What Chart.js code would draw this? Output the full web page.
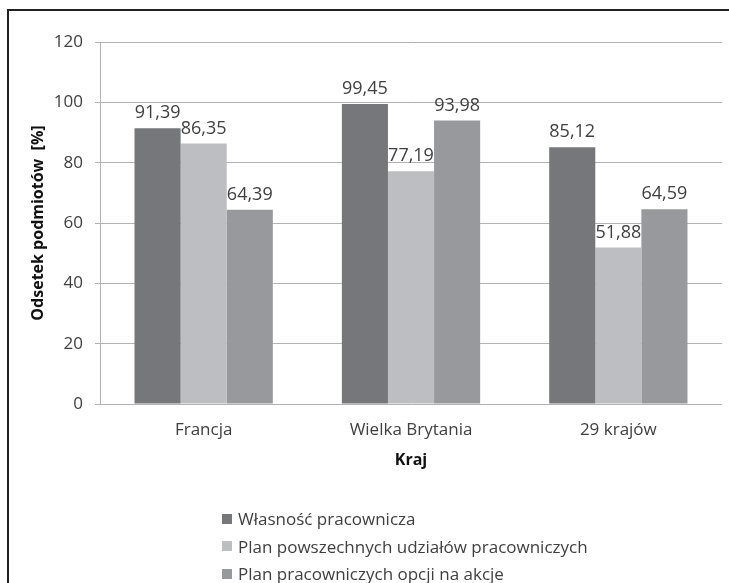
<!DOCTYPE html>
<html>
<head>
<meta charset="utf-8">
<script src="https://cdn.jsdelivr.net/npm/chart.js@4/dist/chart.umd.min.js"></script>
<style>
  html, body { margin: 0; padding: 0; background: #fff; overflow: hidden; }
  #wrap { position: relative; width: 729px; height: 583px; }
  #frame { position: absolute; left: 7px; top: 9px; width: 760px; height: 620px;
           border-left: 2px solid #222; border-top: 2px solid #222; }
  #c { position: absolute; left: 0; top: 0; }
  #legend { position: absolute; left: 222px; top: 505px; font-family: "Open Sans", sans-serif;
            font-size: 17px; color: #404040; line-height: 27.5px; }
  #legend .item { display: flex; align-items: center; white-space: nowrap; }
  #legend .sw { width: 10px; height: 10px; margin-right: 6px; }
</style>
</head>
<body>
<div id="wrap">
  <div id="frame"></div>
  <canvas id="c" width="729" height="583"></canvas>
  <div id="legend"></div>
</div>
<script>
// Categories and series (percent of entities)
const categories = ["Francja", "Wielka Brytania", "29 krajów"];
const seriesNames = [
  "Własność pracownicza",
  "Plan powszechnych udziałów pracowniczych",
  "Plan pracowniczych opcji na akcje"
];
const ownership = [91.39, 99.45, 85.12];
const sharePlan = [86.35, 77.19, 51.88];
const optionPlan = [64.39, 93.98, 64.59];
const yTicks = [0, 20, 40, 60, 80, 100, 120];

const colors = ["#76777b", "#bdbec1", "#98999c"];
const FONT = "'Open Sans', sans-serif";
const TEXT = "#404040";

const fmt = v => v.toFixed(2).replace(".", ",");

// Draws the value above each bar
const valueLabels = {
  id: "valueLabels",
  afterDatasetsDraw(chart) {
    const ctx = chart.ctx;
    ctx.save();
    ctx.font = "18px " + FONT;
    ctx.fillStyle = TEXT;
    ctx.textAlign = "center";
    ctx.textBaseline = "bottom";
    chart.data.datasets.forEach((ds, i) => {
      chart.getDatasetMeta(i).data.forEach((bar, j) => {
        ctx.fillText(fmt(ds.data[j]), bar.x, bar.y - 6);
      });
    });
    ctx.restore();
  }
};

const chart = new Chart(document.getElementById("c"), {
  type: "bar",
  data: {
    labels: categories,
    datasets: [ownership, sharePlan, optionPlan].map((d, i) => ({
      label: seriesNames[i],
      data: d,
      backgroundColor: colors[i],
      borderWidth: 0,
      categoryPercentage: 0.667,
      barPercentage: 1.0
    }))
  },
  options: {
    responsive: false,
    animation: false,
    layout: { padding: { left: 0, top: 42, right: 7, bottom: 109 } },
    plugins: {
      legend: { display: false },
      tooltip: { enabled: false }
    },
    scales: {
      x: {
        afterFit(s) { s.height = 70; },
        grid: { display: false, drawTicks: false },
        border: { display: false },
        ticks: { font: { family: FONT, size: 17 }, color: TEXT, padding: 16 },
        title: { display: true, text: "Kraj", font: { family: FONT, size: 16, weight: "bold" },
                 color: "#111", padding: { top: 6 } }
      },
      y: {
        min: 0, max: 120,
        afterFit(s) { s.width = 100; },
        afterBuildTicks(s) { s.ticks = yTicks.map(v => ({ value: v })); },
        grid: { color: "#b3b3b3", lineWidth: 1, tickLength: 5, drawTicks: true, tickColor: "#b3b3b3" },
        border: { display: true, color: "#b3b3b3" },
        ticks: { font: { family: FONT, size: 17 }, color: TEXT, padding: 12 },
        title: { display: true, text: "Odsetek podmiotów  [%]",
                 font: { family: FONT, size: 16, weight: "bold" }, color: "#111",
                 padding: { top: 29, bottom: 0 } }
      }
    }
  },
  plugins: [valueLabels]
});

// Vertical legend list below the chart
const lg = document.getElementById("legend");
chart.data.datasets.forEach(ds => {
  const it = document.createElement("div");
  it.className = "item";
  const sw = document.createElement("span");
  sw.className = "sw";
  sw.style.background = ds.backgroundColor;
  const tx = document.createElement("span");
  tx.textContent = ds.label;
  it.appendChild(sw); it.appendChild(tx);
  lg.appendChild(it);
});
</script>
</body>
</html>
